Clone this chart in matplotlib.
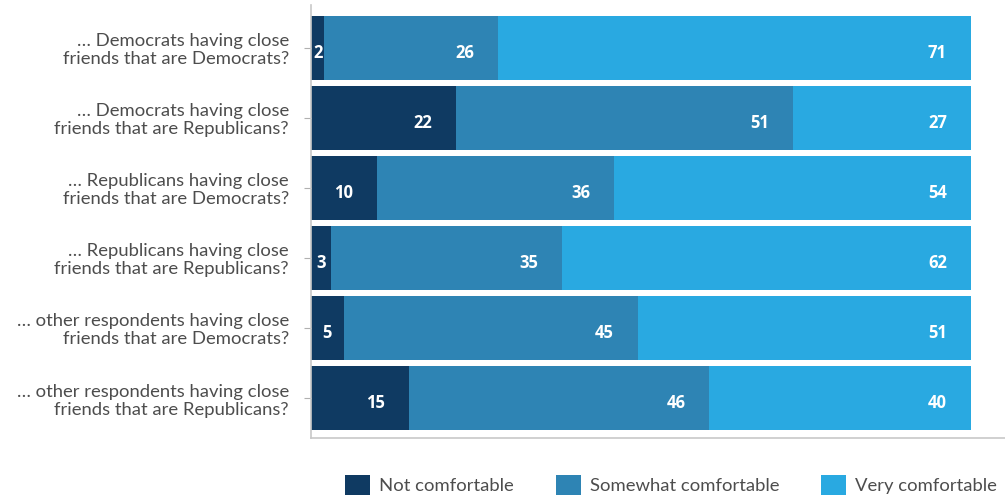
import matplotlib
matplotlib.use("Agg")
import matplotlib.pyplot as plt
import numpy as np

categories = [
    "… Democrats having close\nfriends that are Democrats?",
    "… Democrats having close\nfriends that are Republicans?",
    "… Republicans having close\nfriends that are Democrats?",
    "… Republicans having close\nfriends that are Republicans?",
    "… other respondents having close\nfriends that are Democrats?",
    "… other respondents having close\nfriends that are Republicans?",
]
series_names = ["Not comfortable", "Somewhat comfortable", "Very comfortable"]
not_comfortable = [2, 22, 10, 3, 5, 15]
somewhat_comfortable = [26, 51, 36, 35, 45, 46]
very_comfortable = [71, 27, 54, 62, 51, 40]

colors = ["#0f3a62", "#2e84b4", "#29a9e1"]

values = np.array([not_comfortable, somewhat_comfortable, very_comfortable], dtype=float)
# each row is shown as a full 100% bar (rounded shares may not add up exactly)
shares = values / values.sum(axis=0) * 100

fig = plt.figure(figsize=(10.05, 4.98), dpi=100)
ax = fig.add_axes([0.3095, 0.1205, 0.6905, 0.8695])

y = np.arange(len(categories))
left = np.zeros(len(categories))
label_style = dict(va="center", color="white", fontsize=12,
                   fontweight="bold", family="Open Sans")
for i, name in enumerate(series_names):
    ax.barh(y, shares[i], left=left, height=0.91, color=colors[i],
            label=name, edgecolor="none")
    for j in range(len(categories)):
        w = shares[i][j]
        end = left[j] + w
        txt = f"{values[i][j]:.0f}"
        if w < 8:
            ax.text(left[j] + w / 2, y[j] + 0.07, txt, ha="center", **label_style)
        else:
            ax.text(end - 3.6, y[j] + 0.07, txt, ha="right", **label_style)
    left = left + shares[i]

ax.set_xlim(0, 105.2)
ax.set_ylim(5.57, -0.61)
ax.set_yticks(y)
ax.set_yticklabels(categories, fontsize=13.3, color="#4d4d4d", family="Lato",
                   linespacing=1.15)
ax.tick_params(axis="y", length=5, width=0.8, color="#b0b0b0", pad=11)
ax.set_xticks([])
for side in ["top", "right"]:
    ax.spines[side].set_visible(False)
for side in ["left", "bottom"]:
    ax.spines[side].set_color("#c8c8c8")
    ax.spines[side].set_linewidth(1.2)

leg = fig.legend(loc="lower left", bbox_to_anchor=(0.327, -0.028), ncol=3,
                 frameon=False, handlelength=1.35, handleheight=1.3,
                 handletextpad=0.5, columnspacing=2.25,
                 prop={"family": "Lato", "size": 13.3})
for t in leg.get_texts():
    t.set_color("#4d4d4d")

fig.savefig("out.png", dpi=100)
